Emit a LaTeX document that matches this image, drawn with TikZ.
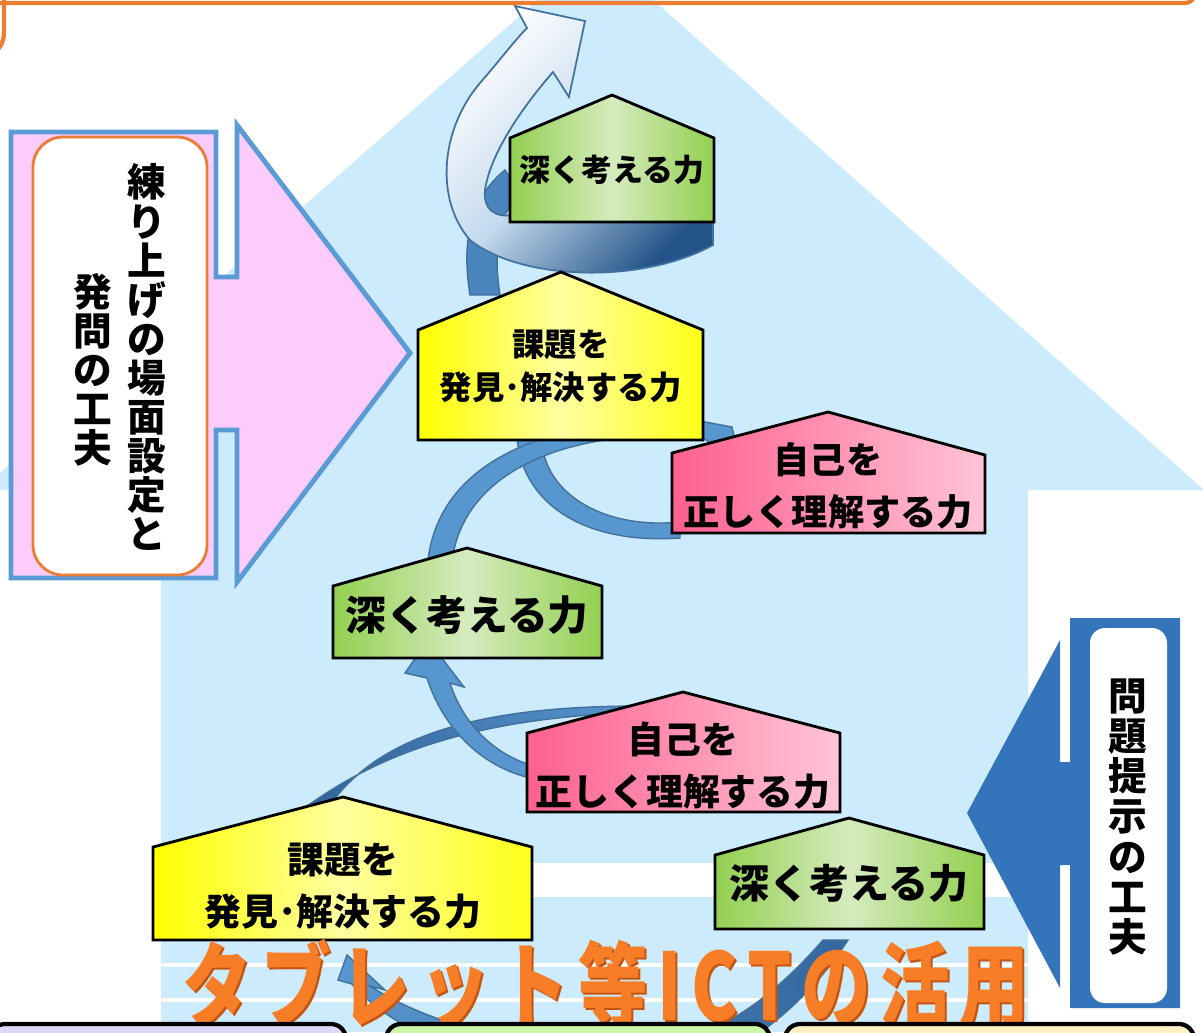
\documentclass[tikz,border=0pt]{standalone}
\usepackage{fontspec}
\newfontfamily\jp{Noto Sans CJK JP}
\definecolor{houseblue}{RGB}{204,235,252}
\definecolor{arrowpink}{RGB}{253,204,253}
\definecolor{edgeblue}{RGB}{91,155,213}
\definecolor{deepblue}{RGB}{52,116,186}
\definecolor{ribbon}{RGB}{88,150,208}
\definecolor{ribbonedge}{RGB}{65,113,156}
\definecolor{navy}{RGB}{36,84,136}
\definecolor{leaf}{RGB}{146,208,80}
\definecolor{leaflight}{RGB}{214,235,190}
\definecolor{lemon}{RGB}{255,255,0}
\definecolor{lemonlight}{RGB}{255,255,160}
\definecolor{rose}{RGB}{255,96,144}
\definecolor{roselight}{RGB}{255,196,214}
\definecolor{tangerine}{RGB}{247,126,38}
\definecolor{rust}{RGB}{196,84,16}
\definecolor{frameorange}{RGB}{237,125,49}
\definecolor{lavender}{RGB}{222,216,245}
\definecolor{mint}{RGB}{204,245,168}
\definecolor{cream}{RGB}{255,240,196}
\tikzset{
  pent/.style={draw=black,line width=0.8pt},
  lbl/.style={inner sep=0pt,align=center,text=black},
  band/.style={fill=ribbon,draw=ribbonedge,line width=0.4pt},
  banner/.style={inner sep=0pt,font=\jp\bfseries\fontsize{23}{26}\selectfont\addfontfeature{LetterSpace=14}},
}
\begin{document}
\begin{tikzpicture}[x=1cm,y=-1cm]
\useasboundingbox (0,0) rectangle (12.03,10.32);
\begin{scope}
\clip (0,0) rectangle (12.03,10.32);
% house
\fill[houseblue] (0,4.73) -- (5.96,-0.51) -- (12.03,4.89) -- (12.03,4.90) -- (10.28,4.90) -- (10.28,10.32) -- (1.61,10.32) -- (1.61,4.90) -- (0,4.90) -- cycle;
\fill[white] (1.61,8.63) rectangle (10.28,8.97);
\fill[white] (1.61,9.63) rectangle (10.28,9.67);
\fill[white] (1.61,9.98) rectangle (10.28,10.02);

% left arrow
\draw[fill=arrowpink,draw=edgeblue,line width=1.4pt] (0.11,1.32) -- (2.16,1.32) -- (2.16,2.77) -- (2.37,2.77) -- (2.37,1.25) -- (4.10,3.53) -- (2.37,5.82) -- (2.37,4.30) -- (2.16,4.30) -- (2.16,5.78) -- (0.11,5.78) -- cycle;
\draw[fill=white,draw=frameorange,line width=0.8pt,rounded corners=0.3cm] (0.33,1.37) rectangle (2.07,5.75);
\node[lbl,font=\jp\bfseries\fontsize{11}{11.1}\selectfont] (renri) at (1.47,3.57) {練\\り\\上\\げ\\の\\場\\面\\設\\定\\と};
\node[lbl,font=\jp\bfseries\fontsize{11}{11.1}\selectfont] (hatsu) at (0.93,3.70) {発\\問\\の\\工\\夫};

% right arrow
\fill[deepblue] (10.70,6.18) -- (11.80,6.18) -- (11.80,10.08) -- (10.70,10.08) -- (10.70,8.65) -- (10.60,8.65) -- (10.60,9.88) -- (9.67,8.13) -- (10.60,6.40) -- (10.60,7.62) -- (10.70,7.62) -- cycle;
\fill[white,rounded corners=0.15cm] (10.90,6.28) rectangle (11.67,10.03);
\node[lbl,font=\jp\bfseries\fontsize{11}{11.4}\selectfont] (mondai) at (11.28,8.17) {問\\題\\提\\示\\の\\工\\夫};

% upper spiral
\fill[band,fill=ribbon!75!navy] (4.70,2.95) .. controls (4.62,2.45) and (4.68,2.00) .. (5.05,1.70) -- (5.22,1.95) .. controls (4.98,2.10) and (4.93,2.50) .. (5.00,2.95) -- cycle;
\shadedraw[draw=ribbonedge,line width=0.5pt,top color=white,bottom color=navy,middle color=ribbon!35!white,shading angle=45]
  (7.13,2.45) .. controls (6.40,2.85) and (5.20,2.80) .. (4.70,2.40)
  .. controls (4.35,2.00) and (4.40,1.30) .. (4.80,0.83)
  .. controls (5.00,0.60) and (5.15,0.40) .. (5.27,0.28)
  -- (5.15,0.06) -- (5.85,0.21) -- (5.69,0.97) -- (5.53,0.72)
  .. controls (5.20,1.10) and (4.90,1.55) .. (4.85,1.90)
  .. controls (4.83,2.10) and (4.95,2.18) .. (5.15,2.15)
  -- (7.13,2.12) -- cycle;

% middle spiral
\fill[band] (5.17,4.35) .. controls (5.20,5.00) and (5.80,5.45) .. (6.80,5.38) -- (6.80,5.22) .. controls (6.00,5.30) and (5.40,4.90) .. (5.42,4.35) -- cycle;
\fill[band] (4.28,5.60) .. controls (4.40,4.60) and (5.50,4.15) .. (7.00,4.21) -- (7.32,4.27) -- (7.40,4.62) -- (7.00,4.36) .. controls (5.60,4.28) and (4.62,4.75) .. (4.52,5.62) -- cycle;

% lower spiral
\shadedraw[draw=ribbonedge,line width=0.4pt,left color=navy!80!ribbon,right color=ribbon] (2.95,8.15) .. controls (3.80,7.50) and (4.80,7.18) .. (6.40,7.12) -- (6.40,7.06) .. controls (4.80,7.06) and (3.80,7.35) .. (3.30,8.05) -- cycle;
\fill[band] (4.05,6.73) -- (4.28,6.40) -- (4.64,6.87) -- (4.50,6.83) .. controls (4.62,7.20) and (4.90,7.55) .. (5.40,7.68) -- (5.40,7.80) .. controls (4.80,7.70) and (4.42,7.25) .. (4.27,6.78) -- cycle;

% bottom arc
\shadedraw[draw=ribbonedge,line width=0.4pt,left color=ribbon,right color=navy!70!ribbon] (3.47,9.55) -- (3.85,9.90) -- (3.70,9.86) .. controls (4.30,10.25) and (5.30,10.50) .. (6.20,10.50) .. controls (7.10,10.50) and (7.75,9.95) .. (8.23,9.40) -- (8.48,9.40) .. controls (8.03,10.10) and (7.20,10.80) .. (6.20,10.80) .. controls (5.20,10.80) and (4.00,10.40) .. (3.52,9.84) -- (3.38,9.80) -- cycle;

% house labels
\shadedraw[pent,left color=leaf,right color=leaf,middle color=leaflight] (5.10,2.22) -- (5.10,1.38) -- (6.12,0.95) -- (7.14,1.38) -- (7.14,2.22) -- cycle;
\node[lbl,font=\jp\bfseries\fontsize{8.8}{10}\selectfont] (think1) at (6.12,1.70) {深く考える力};

\shadedraw[pent,left color=lemon,right color=lemon!85!lemonlight,middle color=lemonlight] (4.18,4.40) -- (4.18,3.30) -- (5.61,2.72) -- (7.03,3.30) -- (7.03,4.40) -- cycle;
\node[lbl,font=\jp\bfseries\fontsize{9.2}{12.2}\selectfont] (task1) at (5.61,3.66) {課題を\\発見･解決する力};

\shadedraw[pent,left color=rose,right color=roselight,middle color=rose!50!roselight] (6.72,5.33) -- (6.72,4.53) -- (8.28,4.12) -- (9.85,4.55) -- (9.85,5.33) -- cycle;
\node[lbl,font=\jp\bfseries\fontsize{10.3}{14.8}\selectfont] (self1) at (8.28,4.86) {自己を\\正しく理解する力};

\shadedraw[pent,left color=leaf,right color=leaf,middle color=leaflight] (3.33,6.58) -- (3.33,5.86) -- (4.67,5.48) -- (6.02,5.86) -- (6.02,6.58) -- cycle;
\node[lbl,font=\jp\bfseries\fontsize{11.6}{13}\selectfont] (think2) at (4.67,6.15) {深く考える力};

\shadedraw[pent,left color=rose,right color=roselight,middle color=rose!50!roselight] (5.27,8.12) -- (5.27,7.33) -- (6.83,6.92) -- (8.40,7.33) -- (8.40,8.12) -- cycle;
\node[lbl,font=\jp\bfseries\fontsize{10.5}{14.8}\selectfont] (self2) at (6.83,7.66) {自己を\\正しく理解する力};

\shadedraw[pent,left color=lemon,right color=lemon!85!lemonlight,middle color=lemonlight] (1.53,9.40) -- (1.53,8.47) -- (3.43,7.97) -- (5.32,8.47) -- (5.32,9.40) -- cycle;
\node[lbl,font=\jp\bfseries\fontsize{10.5}{14.8}\selectfont] (task2) at (3.43,8.86) {課題を\\発見･解決する力};

\shadedraw[pent,left color=leaf,right color=leaf,middle color=leaflight] (7.15,9.29) -- (7.15,8.55) -- (8.49,8.18) -- (9.84,8.55) -- (9.84,9.29) -- cycle;
\node[lbl,font=\jp\bfseries\fontsize{11.4}{13}\selectfont] (think3) at (8.49,8.83) {深く考える力};

% title
\node[banner,text=rust] (titleshade) at (6.08,9.87) {\scalebox{0.86}[1.15]{タブレット等ICTの活用}};
\node[banner,text=tangerine] (title) at (6.06,9.85) {\scalebox{0.86}[1.15]{タブレット等ICTの活用}};

% boxes below
\draw[fill=lavender,draw=black,line width=1.2pt,rounded corners=0.15cm] (-0.10,10.24) rectangle (3.46,10.60);
\draw[fill=mint,draw=black,line width=1.2pt,rounded corners=0.15cm] (3.86,10.24) rectangle (7.70,10.60);
\draw[fill=cream,draw=black,line width=1.2pt,rounded corners=0.15cm] (7.85,10.24) rectangle (11.94,10.60);

% frame above
\draw[frameorange,line width=1.2pt,rounded corners=0.1cm] (-0.20,-0.50) -- (-0.20,0.03) -- (11.95,0.03) -- (11.95,-0.50);
\draw[frameorange,line width=1.2pt,rounded corners=0.25cm] (0.04,-0.30) -- (0.04,0.58) -- (-0.60,0.58);
\end{scope}
\end{tikzpicture}
\end{document}
